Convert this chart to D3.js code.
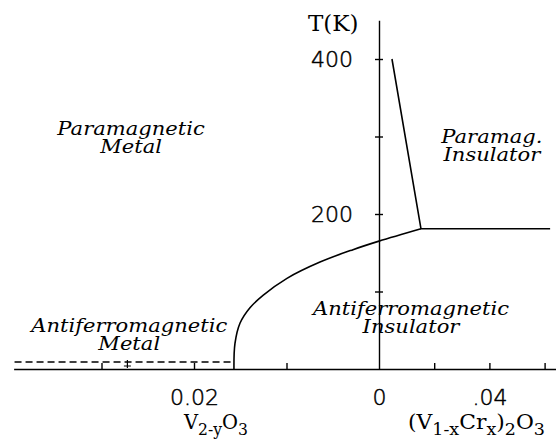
<!DOCTYPE html>
<html>
<head>
<meta charset="utf-8">
<script src="https://cdn.jsdelivr.net/npm/d3@7"></script>
<style>
  body { margin: 0; background: #fff; }
  svg { display: block; }
  .tick text { font-family: "DejaVu Sans", sans-serif; font-weight: 200; }
</style>
</head>
<body>
<div id="chart"></div>
<script>
// composition axis: negative = y in V(2-y)O3, positive = x in (V1-xCrx)2O3
var compTicks = [-0.03, -0.02, -0.01, 0, 0.02, 0.04, 0.06];
var compTickLabels = { "-0.02": "0.02", "0": "0", "0.04": ".04" };
var tempTicks = [100, 200, 300, 400];
var tempTickLabels = { "200": "200", "400": "400" };

// metal-insulator / AF boundary
var boundaryComp = [-0.01568, -0.01557, -0.01503, -0.01395, -0.01254, -0.00995, -0.00638, -0.00281, 0, 0.0152];
var boundaryTemp = [0, 33, 59, 79, 95, 117, 138, 154, 165, 181];

// paramagnetic metal / insulator crossover
var crossoverComp = [0.0047, 0.0152, 0.062];
var crossoverTemp = [400, 181, 181];

// AF metal transition (dashed)
var afMetalComp = [-0.0394, -0.01568];
var afMetalTemp = [9, 9];
var afMetalMark = -0.0272;

var regionLines = [["Paramagnetic", "Metal"], ["Paramag.", "Insulator"],
                   ["Antiferromagnetic", "Metal"], ["Antiferromagnetic", "Insulator"]];
var regionComp = [-0.0268, 0.0409, -0.0270, 0.0116];
var regionTemp = [302, 292, 48, 70];

var width = 556, height = 444,
    x0 = 379, axisY = 369;

var x = d3.scaleLinear()
  .domain([-0.0395, 0, 0.0642])
  .range([x0 - 0.0395 * 9250, x0, x0 + 0.0642 * 2760]);

var y = d3.scaleLinear()
  .domain([0, 450])
  .range([axisY, axisY - 450 * 0.775]);

var svg = d3.select("#chart").append("svg")
  .attr("width", width)
  .attr("height", height);

var xAxis = svg.append("g")
  .attr("transform", "translate(0," + axisY + ")")
  .call(d3.axisBottom(x)
    .tickValues(compTicks)
    .tickSizeInner(-6)
    .tickSizeOuter(0)
    .tickPadding(20)
    .tickFormat(function(d) { return compTickLabels[String(+d.toFixed(2))] || ""; }));

xAxis.selectAll(".tick")
  .filter(function(d) { return d === 0; })
  .select("line").remove();

var yAxis = svg.append("g")
  .attr("transform", "translate(" + x0 + ",0)")
  .call(d3.axisLeft(y)
    .tickValues(tempTicks)
    .tickSizeInner(4)
    .tickSizeOuter(0)
    .tickPadding(22)
    .tickFormat(function(d) { return tempTickLabels[d] || ""; }));

yAxis.selectAll(".tick line").attr("x1", 4);

svg.selectAll(".domain, .tick line")
  .attr("stroke", "#000")
  .attr("stroke-width", 1.4);

svg.selectAll(".tick text")
  .attr("fill", "#000")
  .attr("stroke", "#000")
  .attr("stroke-width", 0.5)
  .style("font-size", "22px");

var line = d3.line()
  .x(function(d) { return x(d[0]); })
  .y(function(d) { return y(d[1]); });

svg.append("path")
  .datum(d3.zip(boundaryComp, boundaryTemp))
  .attr("d", line.curve(d3.curveCatmullRom.alpha(0.5)))
  .attr("fill", "none")
  .attr("stroke", "#000")
  .attr("stroke-width", 1.6);

svg.append("path")
  .datum(d3.zip(crossoverComp, crossoverTemp))
  .attr("d", line.curve(d3.curveLinear))
  .attr("fill", "none")
  .attr("stroke", "#000")
  .attr("stroke-width", 1.6);

svg.append("path")
  .datum(d3.zip(afMetalComp, afMetalTemp))
  .attr("d", line.curve(d3.curveLinear))
  .attr("fill", "none")
  .attr("stroke", "#000")
  .attr("stroke-width", 1.4)
  .attr("stroke-dasharray", "7,4");

// small down arrow on the dashed line
var mx = x(afMetalMark);
svg.append("path")
  .attr("d", "M" + mx + "," + (y(afMetalTemp[0]) - 2) + "V" + (axisY - 1) +
             "M" + (mx - 3.5) + "," + (axisY - 3) + "H" + (mx + 3.5))
  .attr("stroke", "#000")
  .attr("stroke-width", 1.2);

// region names
regionLines.forEach(function(lines, i) {
  var t = svg.append("text")
    .attr("font-family", "'DejaVu Serif', serif")
    .attr("font-style", "italic")
    .attr("font-size", 18)
    .attr("text-anchor", "middle");
  lines.forEach(function(s, j) {
    var ts = t.append("tspan")
      .attr("x", x(regionComp[i]))
      .attr("y", y(regionTemp[i]) + j * 18)
      .text(s);
    var len = ts.node().getComputedTextLength();
    ts.attr("textLength", len * 1.17).attr("lengthAdjust", "spacingAndGlyphs");
  });
});

// axis titles
svg.append("text")
  .attr("x", x0 - 71)
  .attr("y", 31)
  .attr("font-family", "'DejaVu Serif', serif")
  .attr("font-size", 23)
  .text("T(K)");

function formula(parts, px, py, w) {
  var t = svg.append("text")
    .attr("x", px)
    .attr("y", py)
    .attr("font-family", "'DejaVu Serif', serif")
    .attr("font-size", 20);
  var shift = 0;
  parts.forEach(function(p) {
    var sub = p[1];
    var want = sub ? 6 : 0;
    t.append("tspan")
      .attr("dy", want - shift)
      .attr("font-size", sub ? 16 : 20)
      .text(p[0]);
    shift = want;
  });
  t.attr("textLength", w).attr("lengthAdjust", "spacingAndGlyphs");
}

formula([["V", 0], ["2-y", 1], ["O", 0], ["3", 1]], 184, 429, 64);
formula([["(V", 0], ["1-x", 1], ["Cr", 0], ["x", 1], [")", 0], ["2", 1], ["O", 0], ["3", 1]], 408, 429, 137);
</script>
</body>
</html>
